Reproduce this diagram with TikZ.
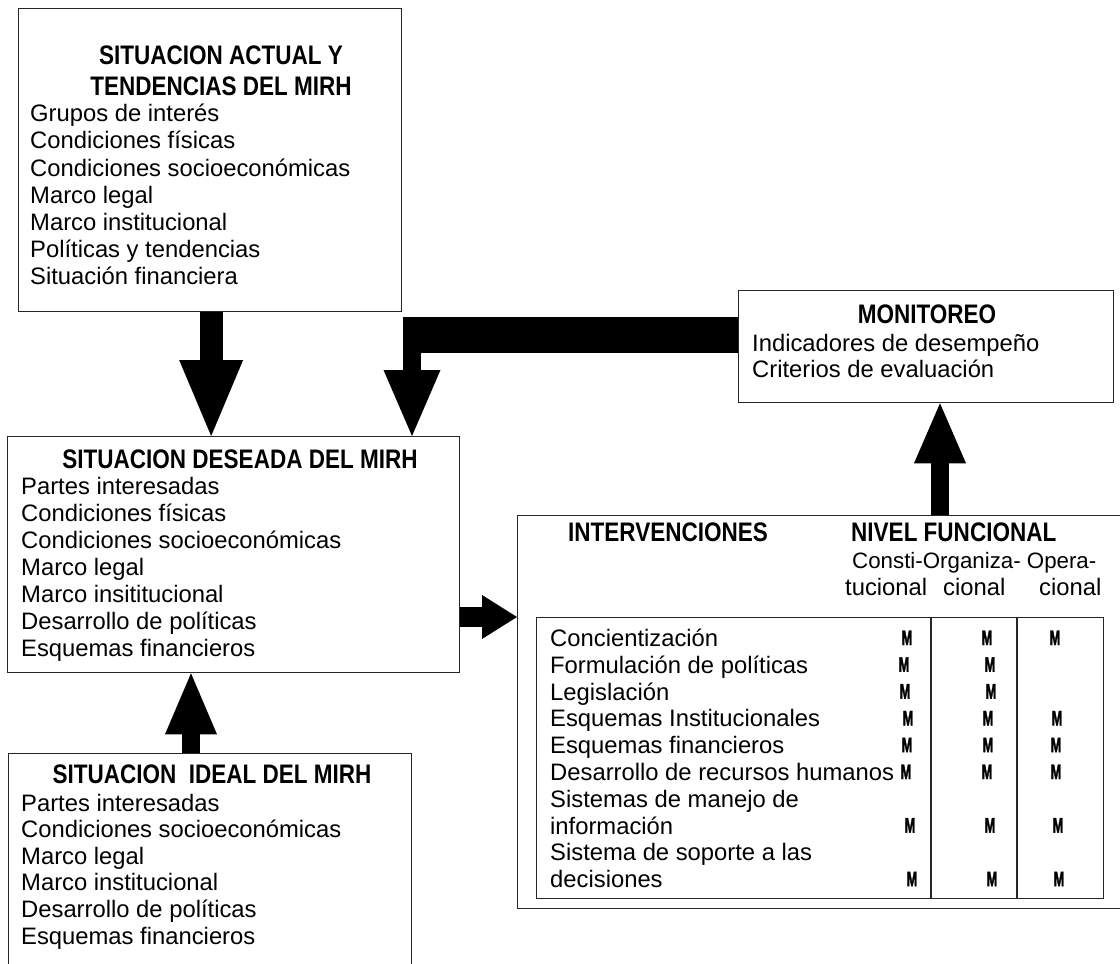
\documentclass[tikz,border=0pt]{standalone}
\usepackage{fontspec}
\usepackage{graphicx}
\setmainfont{Liberation Sans}
\newfontfamily\hfont[FakeStretch=0.84]{Liberation Sans}
\newfontfamily\mfont[FakeStretch=0.6,FakeBold=1.5]{Liberation Sans}
\usetikzlibrary{arrows.meta}
\newcommand\hdf{\hfont\bfseries\fontsize{26.8}{30}\selectfont}
\newcommand\bdf{\fontsize{23.8}{27}\selectfont}
\newcommand\sbdf{\fontsize{22.3}{27}\selectfont}
\newcommand\mkf{\mfont\bfseries\fontsize{21}{21}\selectfont}
\begin{document}
\begin{tikzpicture}[x=1pt,y=-1pt,
  box/.style={draw=black!85, line width=1.3pt, inner sep=0pt, anchor=north west},
  txt/.style={anchor=base west, inner sep=0pt, font=\bdf},
  stxt/.style={anchor=base west, inner sep=0pt, font=\sbdf},
  hdg/.style={anchor=base, inner sep=0pt, font=\hdf},
  hdgw/.style={anchor=base west, inner sep=0pt, font=\hdf},
  mk/.style={anchor=base, inner sep=0pt, font=\mkf}
]
\path[use as bounding box, clip] (0,0) rectangle (1120,964);

% boxes
\node[box, minimum width=383pt, minimum height=303pt] (act) at (18,8) {};
\node[box, minimum width=452pt, minimum height=236pt] (des) at (7,436) {};
\node[box, minimum width=403pt, minimum height=240pt] (ide) at (8,753) {};
\node[box, minimum width=375pt, minimum height=112pt] (mon) at (738,290) {};
\node[box, minimum width=620pt, minimum height=393pt] (int) at (517,515) {};
\node[box, minimum width=567pt, minimum height=281pt] (tab) at (536,617) {};
\draw[draw=black!85, line width=1.3pt] ([xshift=395pt]tab.north west) -- ([xshift=395pt]tab.south west);
\draw[draw=black!85, line width=1.3pt] ([xshift=481pt]tab.north west) -- ([xshift=481pt]tab.south west);

% SITUACION ACTUAL
\node[hdg] (acth1) at (221,64) {SITUACION ACTUAL Y};
\node[hdg] (acth2) at (221,95) {TENDENCIAS DEL MIRH};
\foreach \t [count=\i from 0] in {Grupos de interés, Condiciones físicas, Condiciones socioeconómicas, Marco legal, Marco institucional, Políticas y tendencias, Situación financiera}
  \node[txt] (act\i) at (30,121.7+27.2*\i) {\t};

% SITUACION DESEADA
\node[hdg] (desh) at (240,468) {SITUACION DESEADA DEL MIRH};
\foreach \t [count=\i from 0] in {Partes interesadas, Condiciones físicas, Condiciones socioeconómicas, Marco legal, Marco insititucional, Desarrollo de políticas, Esquemas financieros}
  \node[txt] (des\i) at (21,494+27*\i) {\t};

% SITUACION IDEAL
\node[hdg] (ideh) at (212,783) {SITUACION\ \ IDEAL DEL MIRH};
\foreach \t [count=\i from 0] in {Partes interesadas, Condiciones socioeconómicas, Marco legal, Marco institucional, Desarrollo de políticas, Esquemas financieros}
  \node[txt] (ide\i) at (21,811+26.6*\i) {\t};

% MONITOREO
\node[hdg] (monh) at (927,323) {MONITOREO};
\node[txt] (mon1) at (752,351.5) {Indicadores de desempeño};
\node[txt] (mon2) at (752,377.5) {Criterios de evaluación};

% INTERVENCIONES
\node[hdgw] (inth) at (568,541) {INTERVENCIONES};
\node[hdgw] (nivh) at (851,541) {NIVEL FUNCIONAL};
\node[stxt] (c1a) at (852,568) {Consti-Organiza- Opera-};
\node[txt] (c1b) at (845,595) {tucional};
\node[txt] (c2b) at (943,595) {cional};
\node[txt] (c3b) at (1039,595) {cional};
\foreach \t [count=\i from 0] in {Concientización, Formulación de políticas, Legislación, Esquemas Institucionales, Esquemas financieros, Desarrollo de recursos humanos, Sistemas de manejo de, información, Sistema de soporte a las, decisiones}
  \node[txt] (row\i) at (550,646.5+26.8*\i) {\t};
\foreach \r/\x in {0/907,0/987,0/1055, 1/904,1/990, 2/905,2/991, 3/908,3/988,3/1057, 4/907,4/988,4/1056, 5/906,5/987,5/1056, 7/910,7/990,7/1058, 9/912,9/992,9/1059}
  \node[mk] (m\r-\x) at (\x,645+26.8*\r) {M};

% arrows
\draw[line width=23pt, -{Triangle[length=76pt,width=64pt,line width=0pt]}]
  ([xshift=1pt]act.south) -- ([xshift=1pt]act.south |- des.north);
\coordinate (bend) at (412,335);
\fill ([xshift=-9pt,yshift=18pt]bend) rectangle ([yshift=-18pt]mon.west |- bend);
\draw[line width=18pt, -{Triangle[length=66pt,width=57pt,line width=0pt]}]
  (bend) -- (bend |- des.north);
\draw[line width=18pt, -{Triangle[length=60pt,width=52pt,line width=0pt]}]
  ([xshift=423pt]int.north west) -- ([xshift=423pt]int.north west |- mon.south);
\draw[line width=18pt, -{Triangle[length=61pt,width=52pt,line width=0pt]}]
  ([xshift=183pt]ide.north west) -- ([xshift=183pt]ide.north west |- des.south);
\draw[line width=20pt, -{Triangle[length=35pt,width=44pt,line width=0pt]}]
  (des.east |- tab.north) -- (int.west |- tab.north);
\end{tikzpicture}
\end{document}
